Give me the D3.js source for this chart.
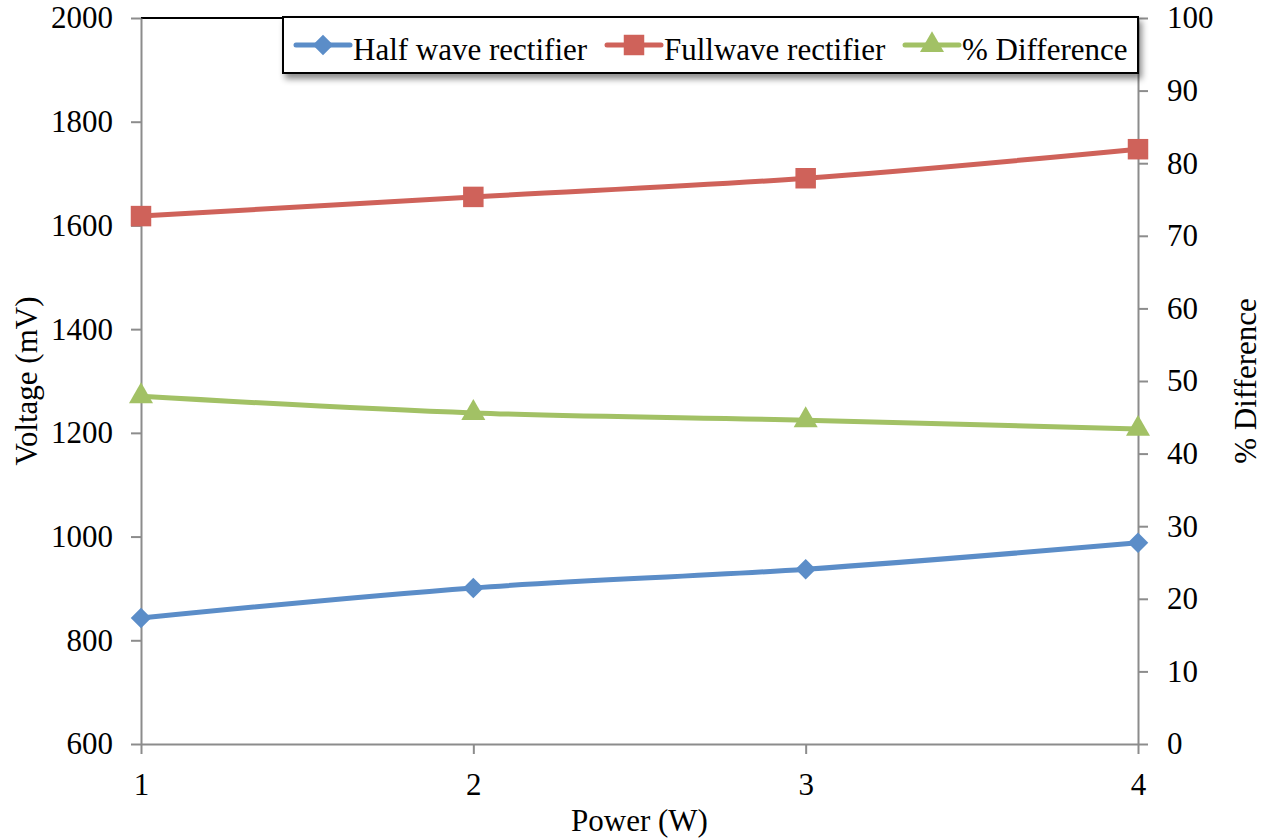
<!DOCTYPE html>
<html>
<head>
<meta charset="utf-8">
<title>Rectifier voltage vs power</title>
<script src="https://d3js.org/d3.v7.min.js"></script>
<style>
  body { margin: 0; background: #fff; }
</style>
</head>
<body>
<script>
const power = [1, 2, 3, 4]
const halfWave = [843, 901, 937, 988]
const fullWave = [1618, 1655, 1691, 1747]
const pctDiff = [47.9, 45.6, 44.6, 43.4]
const leftTicks = [600, 800, 1000, 1200, 1400, 1600, 1800, 2000]
const rightTicks = [0, 10, 20, 30, 40, 50, 60, 70, 80, 90, 100]

const W = 1271, H = 840
const x0 = 141, x1 = 1138, yTop = 18, yBot = 744
const axisColor = "#8c8c8c"
const fs = 31
const serif = '"Liberation Serif"'

const svg = d3.select("body").append("svg")
  .attr("width", W).attr("height", H)

const defs = svg.append("defs")
const f = defs.append("filter").attr("id", "shadow")
  .attr("x", "-5%").attr("y", "-30%").attr("width", "115%").attr("height", "180%")
f.append("feDropShadow").attr("dx", 3).attr("dy", 5).attr("stdDeviation", 3)
  .attr("flood-color", "#000").attr("flood-opacity", 0.45)

let x = d3.scaleLinear().domain([1, 4]).range([x0, x1])
let yL = d3.scaleLinear().domain([600, 2000]).range([yBot, yTop])
let yR = d3.scaleLinear().domain([0, 100]).range([yBot, yTop])

const styleText = t => t.style("font-family", serif).style("font-size", fs + "px").attr("fill", "#000")

const styleAxis = g => {
  g.select(".domain").attr("stroke", axisColor).attr("stroke-width", 2)
  g.selectAll(".tick line").attr("stroke", axisColor).attr("stroke-width", 2)
  g.selectAll(".tick text").call(styleText)
}

// top border of plot area
svg.append("line").attr("x1", x0).attr("x2", x1).attr("y1", yTop).attr("y2", yTop)
  .attr("stroke", "#000").attr("stroke-width", 2)

svg.append("g").attr("transform", `translate(${x0},0)`)
  .call(d3.axisLeft(yL).tickValues(leftTicks).tickFormat(d3.format("d")).tickSize(10).tickPadding(18).tickSizeOuter(0))
  .call(styleAxis)

svg.append("g").attr("transform", `translate(${x1},0)`)
  .call(d3.axisRight(yR).tickValues(rightTicks).tickFormat(d3.format("d")).tickSize(10).tickPadding(19).tickSizeOuter(0))
  .call(styleAxis)

svg.append("g").attr("transform", `translate(0,${yBot})`)
  .call(d3.axisBottom(x).tickValues(power).tickFormat(d3.format("d")).tickSize(10).tickPadding(19).tickSizeOuter(0))
  .call(styleAxis)

// axis titles
svg.append("text").attr("x", (x0 + x1) / 2).attr("y", 831)
  .attr("text-anchor", "middle").call(styleText).text("Power (W)")
svg.append("text").attr("transform", `translate(37,${(yTop + yBot) / 2}) rotate(-90)`)
  .attr("text-anchor", "middle").call(styleText).text("Voltage (mV)")
svg.append("text").attr("transform", `translate(1256,${(yTop + yBot) / 2}) rotate(-90)`)
  .attr("text-anchor", "middle").call(styleText).text("% Difference")

const series = [
  { name: "Half wave rectifier", vals: halfWave, y: yL, color: "#5b8dc8", sym: d3.symbolSquare, size: 210, rot: 45 },
  { name: "Fullwave rectifier", vals: fullWave, y: yL, color: "#cf625a", sym: d3.symbolSquare, size: 420, rot: 0 },
  { name: "% Difference", vals: pctDiff, y: yR, color: "#a2c165", sym: d3.symbolTriangle, size: 250, rot: 0 }
]

series.forEach(s => {
  const line = d3.line().x((d, i) => x(power[i])).y(d => s.y(d)).curve(d3.curveCatmullRom.alpha(0.5))
  svg.append("path").datum(s.vals).attr("d", line)
    .attr("fill", "none").attr("stroke", s.color).attr("stroke-width", 5).attr("stroke-linecap", "round")
  svg.selectAll(null).data(s.vals).enter().append("path")
    .attr("transform", (d, i) => `translate(${x(power[i])},${s.y(d)}) rotate(${s.rot})`)
    .attr("d", d3.symbol().type(s.sym).size(s.size))
    .attr("fill", s.color)
})

// legend
const lg = svg.append("g")
lg.append("rect").attr("x", 283).attr("y", 17).attr("width", 855).attr("height", 56)
  .attr("fill", "#fff").attr("stroke", "#000").attr("stroke-width", 2).attr("filter", "url(#shadow)")
const legendX = [296, 607, 905]
series.forEach((s, i) => {
  const lx = legendX[i], ly = 45
  lg.append("line").attr("x1", lx).attr("x2", lx + 54).attr("y1", ly).attr("y2", ly)
    .attr("stroke", s.color).attr("stroke-width", 5).attr("stroke-linecap", "round")
  lg.append("path").attr("transform", `translate(${lx + 27},${ly}) rotate(${s.rot})`)
    .attr("d", d3.symbol().type(s.sym).size(s.size)).attr("fill", s.color)
  lg.append("text").attr("x", lx + 57).attr("y", 60).call(styleText).text(s.name)
})
</script>
</body>
</html>
